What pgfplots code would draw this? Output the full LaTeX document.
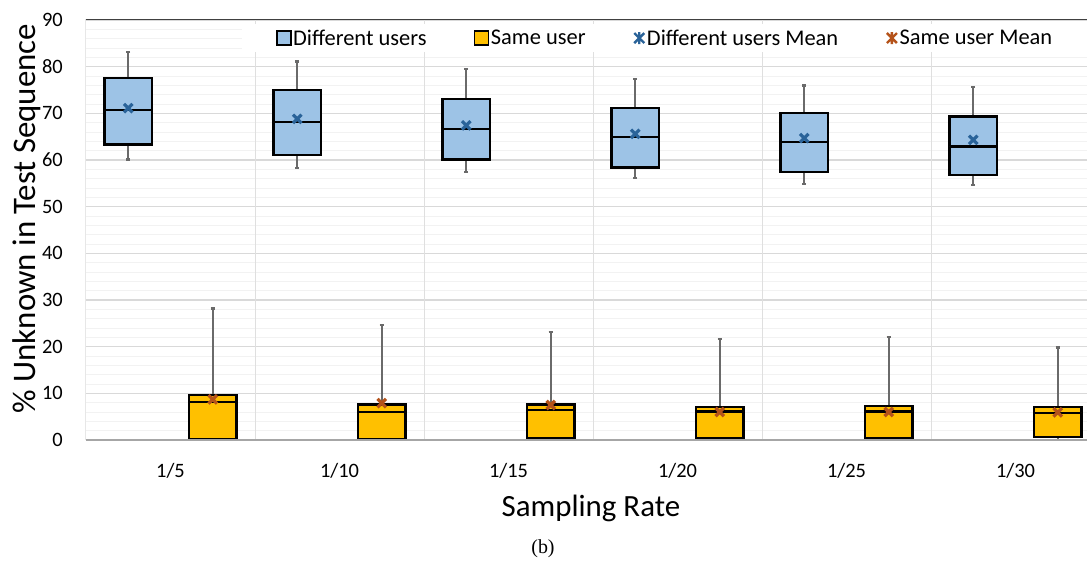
\documentclass[border=0pt]{standalone}
\usepackage{fontspec}
\setmainfont{Carlito}
\newfontfamily\serifb{Liberation Serif}
\usepackage{pgfplots}
\usepgfplotslibrary{statistics}
\pgfplotsset{compat=1.18}
\definecolor{boxblue}{HTML}{9DC3E6}
\definecolor{boxyel}{HTML}{FFC000}
\definecolor{meanblue}{HTML}{2A6399}
\definecolor{meanorg}{HTML}{B5531A}
\definecolor{whisk}{HTML}{6A6A6A}
\definecolor{majgrid}{HTML}{D9D9D9}
\definecolor{mingrid}{HTML}{F2F2F2}
\begin{document}
\begin{tikzpicture}
\path[use as bounding box] (-86bp,-123bp) rectangle (1001bp,440bp);
\begin{axis}[
  scale only axis, width=1014bp, height=420bp,
  xmin=0.5, xmax=6.5, ymin=0, ymax=90,
  xtick={1,...,6}, xticklabels={1/5,1/10,1/15,1/20,1/25,1/30},
  ytick={0,10,...,90}, minor y tick num=4,
  major tick length=0pt, minor tick length=0pt,
  ymajorgrids, yminorgrids,
  major grid style={draw=majgrid, line width=1.4bp},
  minor grid style={draw=mingrid, line width=0.9bp},
  extra x ticks={1.5,2.5,3.5,4.5,5.5}, extra x tick labels={},
  extra x tick style={grid=major, major grid style={draw=majgrid!85, line width=0.8bp}},
  axis line style={draw=none},
  /pgf/number format/assume math mode=true,
  tick label style={font=\fontsize{20.5}{23}\selectfont},
  yticklabel style={anchor=east, inner sep=0pt, xshift=-23bp},
  xticklabel style={anchor=base, inner sep=0pt, yshift=-37bp},
  xlabel={Sampling Rate},
  xlabel style={font=\fontsize{31}{36}\selectfont, at={(axis description cs:0.498,-0.1833)}, anchor=base},
  ylabel={\% Unknown in Test Sequence},
  ylabel style={font=\fontsize{33}{38}\selectfont, at={(axis description cs:-0.0582,0.527)}, anchor=center, rotate=0},
  boxplot/draw direction=y,
  boxplot/every whisker/.style={draw=whisk, line width=2.4bp},
  boxplot/every median/.style={draw=black, line width=2.2bp},
  boxplot/box extend=0.28, boxplot/whisker extend=0.025,
  legend columns=4,
  legend cell align=left,
  legend style={at={(0.571,0.957)}, anchor=center, draw=none, fill=white,
    font=\fontsize{22.5}{26}\selectfont, inner xsep=34bp, inner ysep=4bp,
    nodes={inner sep=1.5bp},
    /tikz/every even column/.append style={column sep=46bp}},
]
% legend entries
\addlegendimage{legend image code/.code={\draw[fill=boxblue, draw=black, line width=1.4bp] (0bp,-7bp) rectangle (14bp,7bp);}}
\addlegendentry{Different users}
\addlegendimage{legend image code/.code={\draw[fill=boxyel, draw=black, line width=1.4bp] (0bp,-7bp) rectangle (14bp,7bp);}}
\addlegendentry{Same user}
\addlegendimage{legend image code/.code={\draw[meanblue, line width=2.4bp] (2bp,-5bp) -- (12bp,5bp) (2bp,5bp) -- (12bp,-5bp) (7bp,-6bp) -- (7bp,6bp);}}
\addlegendentry{Different users Mean}
\addlegendimage{legend image code/.code={\draw[meanorg, line width=2.4bp] (2bp,-5bp) -- (12bp,5bp) (2bp,5bp) -- (12bp,-5bp) (7bp,-6bp) -- (7bp,6bp);}}
\addlegendentry{Same user Mean}

% Different users boxes
\addplot[forget plot, fill=boxblue, draw=black, line width=2.2bp, boxplot prepared={draw position=0.75, lower whisker=60.1, lower quartile=63.3, median=70.7, upper quartile=77.6, upper whisker=83.1}] coordinates {};
\addplot[forget plot, fill=boxblue, draw=black, line width=2.2bp, boxplot prepared={draw position=1.75, lower whisker=58.3, lower quartile=61.0, median=68.1, upper quartile=75.0, upper whisker=81.1}] coordinates {};
\addplot[forget plot, fill=boxblue, draw=black, line width=2.2bp, boxplot prepared={draw position=2.75, lower whisker=57.4, lower quartile=60.1, median=66.6, upper quartile=73.1, upper whisker=79.5}] coordinates {};
\addplot[forget plot, fill=boxblue, draw=black, line width=2.2bp, boxplot prepared={draw position=3.75, lower whisker=56.1, lower quartile=58.4, median=64.9, upper quartile=71.1, upper whisker=77.4}] coordinates {};
\addplot[forget plot, fill=boxblue, draw=black, line width=2.2bp, boxplot prepared={draw position=4.75, lower whisker=54.9, lower quartile=57.4, median=63.8, upper quartile=70.1, upper whisker=76.0}] coordinates {};
\addplot[forget plot, fill=boxblue, draw=black, line width=2.2bp, boxplot prepared={draw position=5.75, lower whisker=54.6, lower quartile=56.8, median=62.9, upper quartile=69.3, upper whisker=75.6}] coordinates {};

% Same user boxes
\addplot[forget plot, fill=boxyel, draw=black, line width=2.2bp, boxplot prepared={draw position=1.25, lower whisker=0, lower quartile=0.2, median=8.1, upper quartile=9.6, upper whisker=28.2}] coordinates {};
\addplot[forget plot, fill=boxyel, draw=black, line width=2.2bp, boxplot prepared={draw position=2.25, lower whisker=0, lower quartile=0.3, median=6.0, upper quartile=7.6, upper whisker=24.6}] coordinates {};
\addplot[forget plot, fill=boxyel, draw=black, line width=2.2bp, boxplot prepared={draw position=3.25, lower whisker=0, lower quartile=0.4, median=6.5, upper quartile=7.6, upper whisker=23.2}] coordinates {};
\addplot[forget plot, fill=boxyel, draw=black, line width=2.2bp, boxplot prepared={draw position=4.25, lower whisker=0, lower quartile=0.4, median=6.1, upper quartile=7.1, upper whisker=21.6}] coordinates {};
\addplot[forget plot, fill=boxyel, draw=black, line width=2.2bp, boxplot prepared={draw position=5.25, lower whisker=0, lower quartile=0.4, median=6.1, upper quartile=7.3, upper whisker=22.1}] coordinates {};
\addplot[forget plot, fill=boxyel, draw=black, line width=2.2bp, boxplot prepared={draw position=6.25, lower whisker=0, lower quartile=0.6, median=5.8, upper quartile=7.1, upper whisker=19.8}] coordinates {};

% Means
\addplot[forget plot, only marks, mark=x, mark size=6bp, line width=3.2bp, color=meanblue] coordinates {(0.75,71.1) (1.75,68.8) (2.75,67.4) (3.75,65.6) (4.75,64.7) (5.75,64.3)};
\addplot[forget plot, only marks, mark=x, mark size=6bp, line width=3.2bp, color=meanorg] coordinates {(1.25,8.7) (2.25,7.9) (3.25,7.5) (4.25,6.0) (5.25,6.0) (6.25,5.9)};

% axis frame
\draw[draw=black!75, line width=1bp] (rel axis cs:0,0) -- (rel axis cs:0,1) -- (rel axis cs:1,1);
\draw[draw=black!35, line width=1.8bp] (rel axis cs:0,0) -- (rel axis cs:1,0);
\end{axis}
\node[font=\serifb\fontsize{20}{24}\selectfont] at (457bp,-109bp) {(b)};
\end{tikzpicture}
\end{document}
